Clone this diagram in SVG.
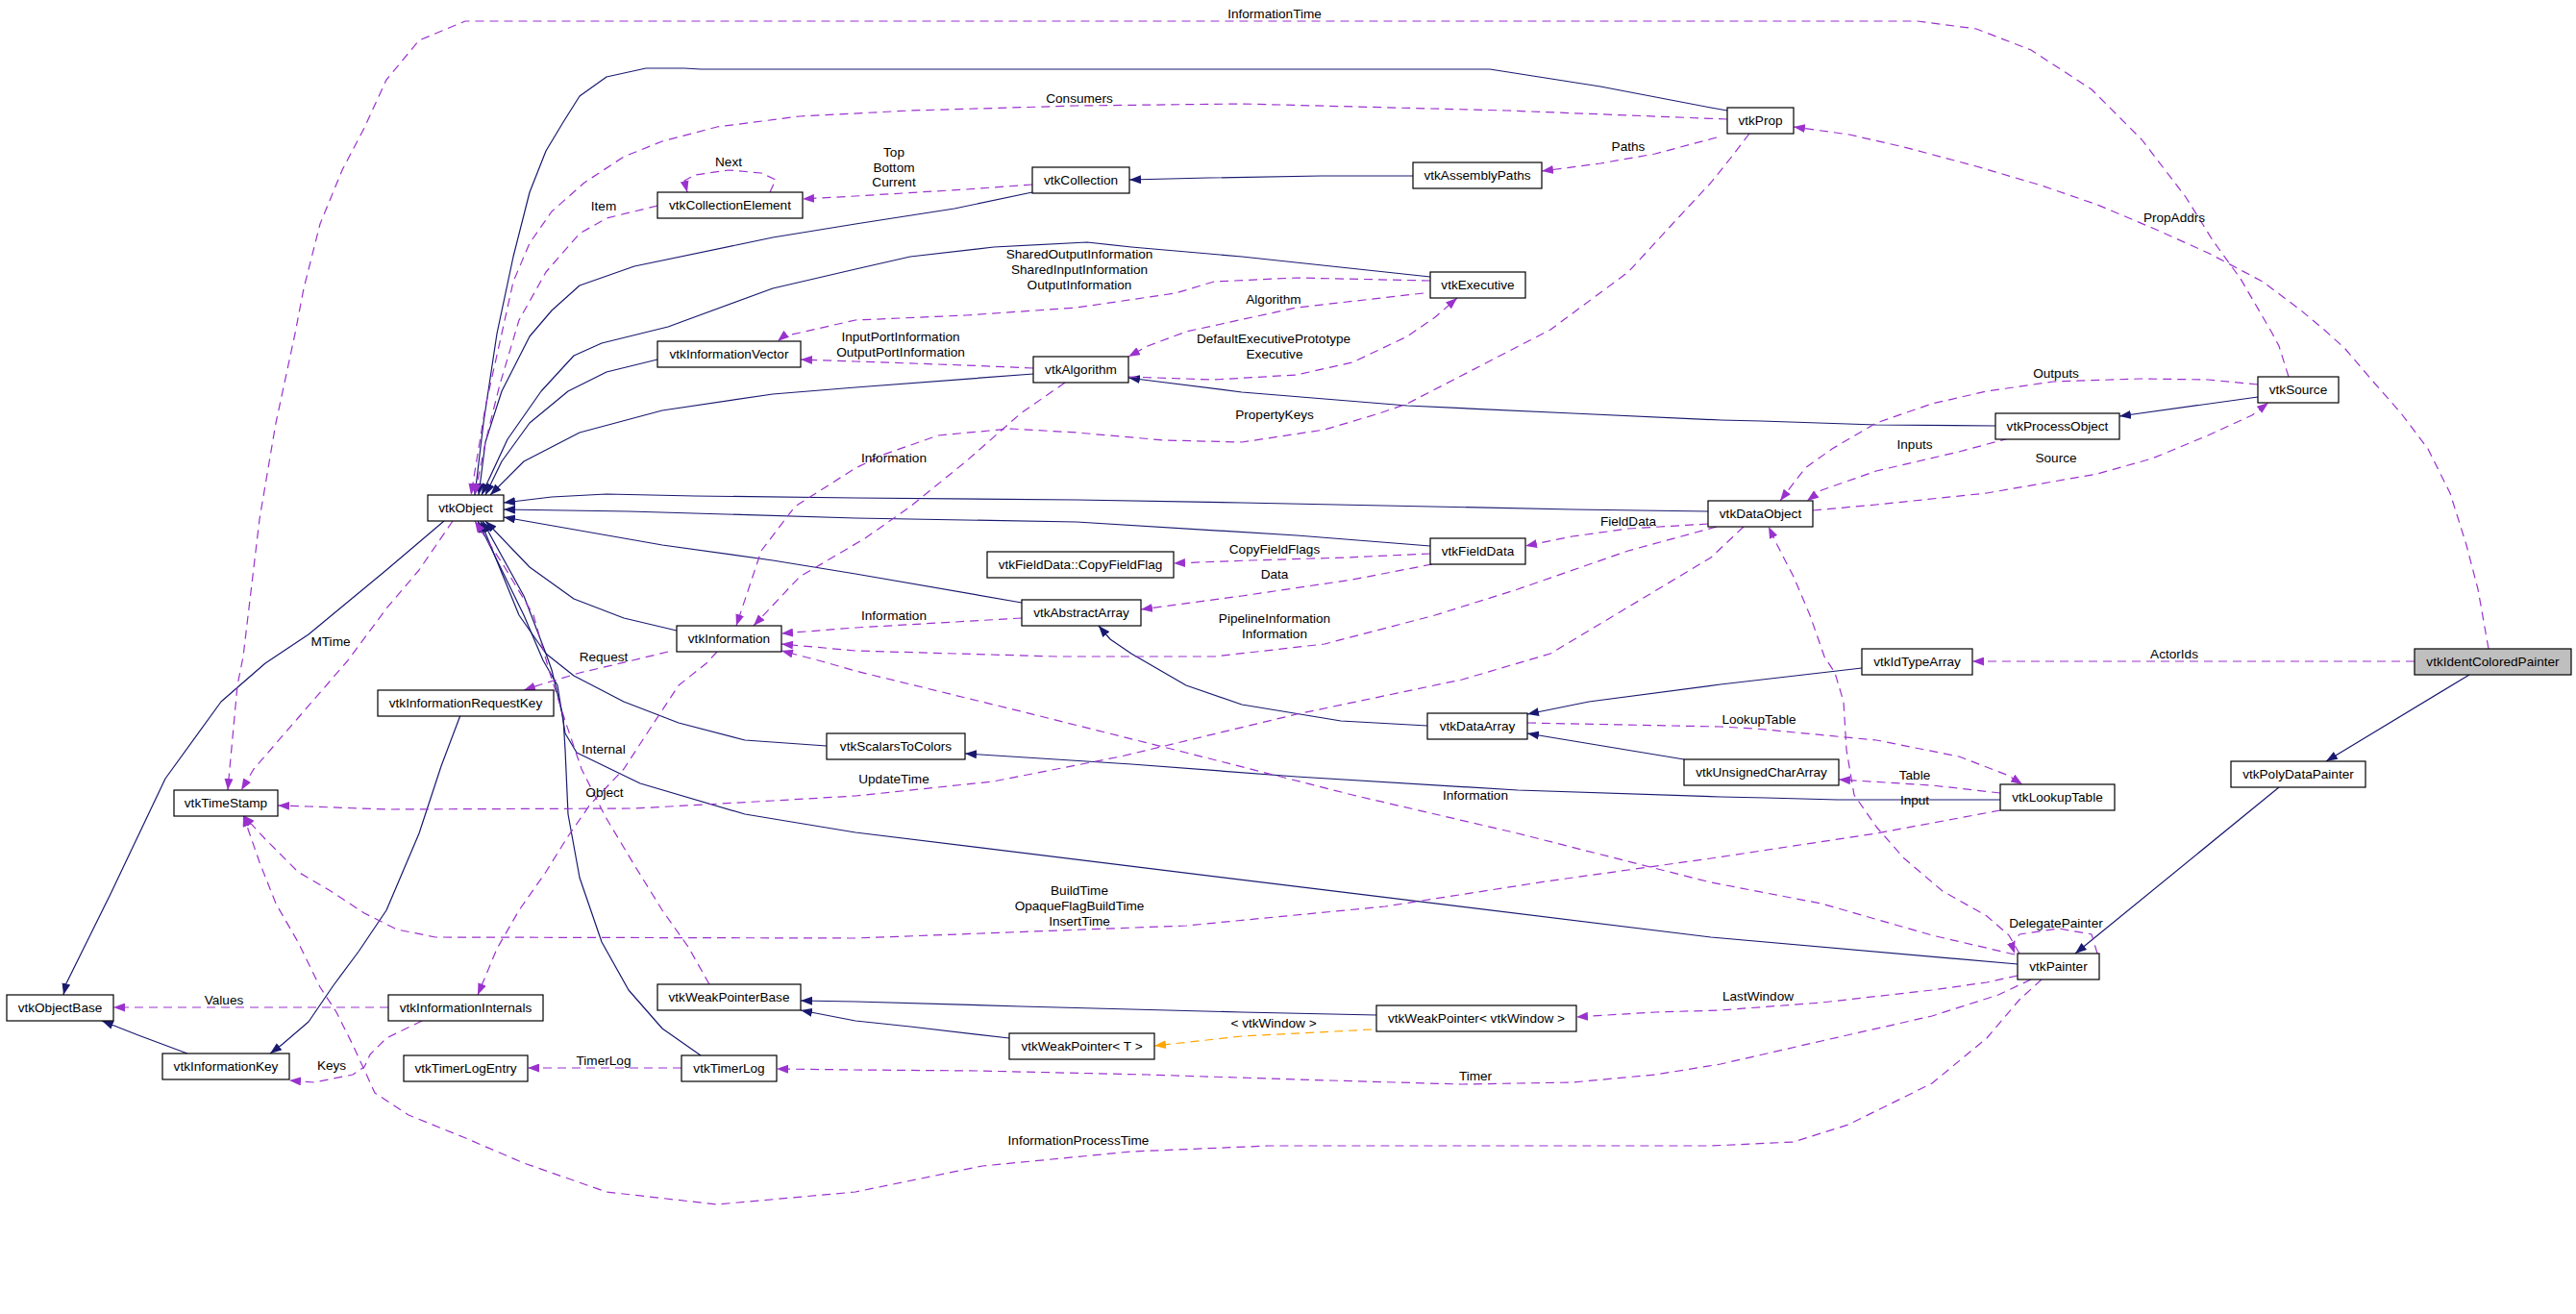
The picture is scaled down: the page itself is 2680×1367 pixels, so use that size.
<svg xmlns="http://www.w3.org/2000/svg" width="2680" height="1367" viewBox="0 0 2680 1367">
<style>
text{font-family:"Liberation Sans",Arial,sans-serif;font-size:13.6px;text-anchor:middle;fill:#000}
.node rect{fill:#fff;stroke:#000;stroke-width:1.2}
#vtkIdentColoredPainter rect{fill:#bfbfbf}
.inh{fill:none;stroke:#191970;stroke-width:1.2;stroke-linejoin:round;marker-end:url(#an)}
.use{fill:none;stroke:#9a32cd;stroke-width:1.2;stroke-dasharray:9,6;stroke-linejoin:round;marker-end:url(#ap)}
.tpl{fill:none;stroke:#ffa500;stroke-width:1.2;stroke-dasharray:9,6;marker-end:url(#ao)}
</style>
<defs>
<marker id="an" markerUnits="userSpaceOnUse" markerWidth="13" markerHeight="9" viewBox="0 0 13 9" refX="12" refY="4.5" orient="auto"><path d="M0,0 L12,4.5 L0,9 z" fill="#191970" stroke="none"/></marker>
<marker id="ap" markerUnits="userSpaceOnUse" markerWidth="13" markerHeight="9" viewBox="0 0 13 9" refX="12" refY="4.5" orient="auto"><path d="M0,0 L12,4.5 L0,9 z" fill="#9a32cd" stroke="none"/></marker>
<marker id="ao" markerUnits="userSpaceOnUse" markerWidth="13" markerHeight="9" viewBox="0 0 13 9" refX="12" refY="4.5" orient="auto"><path d="M0,0 L12,4.5 L0,9 z" fill="#ffa500" stroke="none"/></marker>
</defs>
<rect width="2680" height="1367" fill="#fff"/>
<g id="connectors">
<path class="inh" d="M1797,115 L1780,112 L1665,90 L1550,72 L1300,72 L729,72 L712,71 L672,71 L631,80 L603,100 L586,127 L568,157 L551,200 L534,267 L517,347 L503,440 L494,515"/>
<path class="inh" d="M1074,200 L993,217 L890,233 L804,247 L660,277 L603,297 L574,323 L551,350 L522,407 L505,460 L498,515"/>
<path class="inh" d="M1488,288 L1292,267 L1177,257 L1131,252 L1034,257 L947,267 L890,280 L804,300 L695,340 L626,357 L597,370 L563,407 L528,457 L501,515"/>
<path class="inh" d="M684,374 L631,387 L591,407 L551,440 L522,480 L505,515"/>
<path class="inh" d="M1075,389 L890,403 L804,410 L689,427 L603,450 L545,480 L510,515"/>
<path class="inh" d="M1777,532 L1636,530 L1292,523 L1120,520 L890,518 L723,516 L631,514 L574,517 L524,523"/>
<path class="inh" d="M1488,568 L1349,557 L1120,543 L890,539 L654,532 L524,530"/>
<path class="inh" d="M1063,627 L890,597 L804,583 L689,567 L524,538"/>
<path class="inh" d="M704,656 L649,643 L597,623 L551,590 L505,542"/>
<path class="inh" d="M860,776 L775,770 L706,752 L649,730 L597,703 L568,680 L540,640 L500,542"/>
<path class="inh" d="M2099,1003 L1780,975 L890,866 L775,847 L666,815 L600,783 L588,763 L580,713 L565,687 L545,640 L497,542"/>
<path class="inh" d="M729,1098 L689,1070 L654,1030 L626,980 L603,913 L591,847 L588,780 L586,747 L574,697 L568,680 L545,620 L502,542"/>
<path class="inh" d="M462,542 L402,593 L321,660 L276,690 L230,730 L172,810 L115,930 L69,1023 L66,1035"/>
<path class="inh" d="M195,1096 L144,1077 L106,1062"/>
<path class="inh" d="M479,744 L459,797 L436,867 L402,947 L373,990 L347,1025 L321,1063 L293,1087 L281,1096"/>
<path class="inh" d="M1470,183 L1374,183 L1257,185 L1175,187"/>
<path class="inh" d="M2076,443 L1952,442 L1832,438 L1790,437 L1636,430 L1464,422 L1292,408 L1189,395 L1174,393"/>
<path class="inh" d="M2349,413 L2205,433"/>
<path class="inh" d="M1485,755 L1395,750 L1292,733 L1234,713 L1177,680 L1155,665 L1143,651"/>
<path class="inh" d="M1937,695 L1790,712 L1653,730 L1589,743"/>
<path class="inh" d="M1752,790 L1589,763"/>
<path class="inh" d="M2081,832 L1912,832 L1837,830 L1790,829 L1579,822 L1349,808 L1177,795 L1004,784"/>
<path class="inh" d="M1432,1056 L1292,1053 L1062,1047 L890,1042 L833,1041"/>
<path class="inh" d="M1050,1080 L947,1068 L890,1062 L833,1051"/>
<path class="inh" d="M2569,702 L2420,792"/>
<path class="inh" d="M2371,819 L2159,992"/>
<path class="use" d="M2381,392 L2371,360 L2363,345 L2331,290 L2302,250 L2274,205 L2228,145 L2176,93 L2113,52 L2056,30 L1995,22 L484,22 L436,42 L402,83 L379,133 L356,177 L333,233 L316,300 L307,347 L287,440 L270,540 L253,683 L247,713 L238,810 L237,822"/>
<path class="use" d="M2589,675 L2578,613 L2566,567 L2549,513 L2526,467 L2498,430 L2469,397 L2440,363 L2418,343 L2394,323 L2354,293 L2297,263 L2239,237 L2182,213 L2124,193 L2056,173 L1981,153 L1924,140 L1866,132"/>
<path class="use" d="M1797,124 L1567,115 L1292,108 L1120,110 L947,115 L832,121 L746,132 L689,147 L649,163 L608,190 L574,220 L551,253 L534,293 L522,347 L505,423 L490,515"/>
<path class="use" d="M1786,143 L1722,160 L1665,170 L1604,178"/>
<path class="use" d="M1820,139 L1800,165 L1780,190 L1740,233 L1694,283 L1613,343 L1464,420 L1435,430 L1378,447 L1292,460 L1211,458 L1120,450 L1051,446 L976,453 L919,473 L890,487 L827,527 L792,573 L766,651"/>
<path class="use" d="M684,214 L631,227 L603,243 L568,283 L540,333 L520,400 L505,460 L494,515"/>
<path class="use" d="M1074,192 L1005,197 L890,204 L835,207"/>
<path class="use" d="M801,200 L807,187 L792,180 L758,177 L723,182 L712,188 L715,200"/>
<path class="use" d="M1488,292 L1349,289 L1263,293 L1223,305 L1120,320 L1005,328 L890,333 L815,350 L809,355"/>
<path class="use" d="M1075,383 L1005,380 L890,376 L833,374"/>
<path class="use" d="M1481,305 L1349,320 L1234,345 L1194,360 L1174,371"/>
<path class="use" d="M1174,392 L1263,395 L1349,390 L1407,377 L1464,350 L1493,330 L1516,310"/>
<path class="use" d="M1108,398 L1062,430 L1005,480 L947,527 L900,560 L832,600 L784,651"/>
<path class="use" d="M2349,400 L2297,395 L2228,394 L2136,397 L2067,407 L2010,420 L1952,440 L1906,467 L1878,487 L1852,521"/>
<path class="use" d="M2090,456 L2038,470 L1952,490 L1895,510 L1880,521"/>
<path class="use" d="M1886,531 L1952,525 L2067,513 L2182,493 L2239,477 L2297,453 L2343,432 L2360,419"/>
<path class="use" d="M1777,545 L1694,550 L1636,558 L1587,568"/>
<path class="use" d="M1488,576 L1400,580 L1300,583 L1221,586"/>
<path class="use" d="M1490,587 L1407,603 L1292,620 L1187,634"/>
<path class="use" d="M1063,643 L890,653 L813,659"/>
<path class="use" d="M1786,548 L1694,573 L1579,613 L1493,640 L1378,670 L1263,683 L1100,683 L890,677 L813,670"/>
<path class="use" d="M1814,548 L1780,580 L1613,680 L1521,707 L1349,743 L1166,787 L1033,813 L890,828 L804,833 L660,841 L402,842 L321,839 L289,838"/>
<path class="use" d="M2096,993 L2010,973 L1895,940 L1780,918 L1579,867 L1407,827 L1234,783 L1062,740 L890,698 L855,688 L813,677"/>
<path class="use" d="M2101,992 L2090,973 L2067,953 L2021,927 L1981,893 L1952,860 L1929,827 L1921,780 L1918,730 L1909,700 L1898,683 L1883,640 L1866,600 L1849,567 L1840,548"/>
<path class="use" d="M2182,992 L2176,972 L2142,966 L2101,972 L2093,983 L2096,992"/>
<path class="use" d="M2099,1015 L2067,1022 L2010,1030 L1895,1043 L1789,1051 L1722,1053 L1640,1058"/>
<path class="use" d="M2113,1019 L2079,1035 L2010,1057 L1895,1083 L1790,1107 L1722,1118 L1636,1126 L1521,1128 L1349,1123 L1194,1118 L1016,1114 L890,1113 L808,1112"/>
<path class="use" d="M2124,1019 L2101,1040 L2067,1080 L2010,1127 L1923,1170 L1866,1188 L1780,1192 L1320,1192 L1177,1198 L1022,1213 L890,1240 L746,1253 L631,1240 L545,1210 L482,1183 L425,1160 L390,1137 L379,1113 L367,1087 L350,1053 L333,1027 L310,980 L287,940 L270,897 L253,848"/>
<path class="use" d="M2081,843 L1952,867 L1780,893 L1608,917 L1441,943 L1234,963 L890,976 L453,975 L413,967 L379,950 L344,927 L310,907 L276,873 L253,848"/>
<path class="use" d="M471,542 L436,593 L402,633 L362,687 L310,747 L264,800 L251,822"/>
<path class="use" d="M695,678 L654,688 L603,700 L563,712 L545,718"/>
<path class="use" d="M746,678 L735,690 L706,713 L677,757 L649,800 L614,837 L591,870 L568,907 L540,947 L517,987 L497,1035"/>
<path class="use" d="M738,1024 L716,985 L689,947 L660,900 L630,850 L605,800 L588,750 L572,700 L555,640 L525,590 L494,542"/>
<path class="use" d="M404,1048 L118,1048"/>
<path class="use" d="M439,1062 L402,1080 L385,1097 L379,1110 L367,1118 L327,1126 L301,1124"/>
<path class="use" d="M709,1111 L549,1111"/>
<path class="use" d="M2512,688 L2052,688"/>
<path class="use" d="M1589,752 L1790,756 L1826,758 L1952,770 L2038,787 L2090,807 L2104,816"/>
<path class="use" d="M2081,825 L2010,817 L1913,811"/>
<path class="tpl" d="M1427,1071 L1292,1078 L1201,1088"/>
</g>
<g id="labels">
<text x="1326" y="19">InformationTime</text>
<text x="1123" y="107">Consumers</text>
<text x="930" y="163">Top</text>
<text x="930" y="179">Bottom</text>
<text x="930" y="194">Current</text>
<text x="1694" y="157">Paths</text>
<text x="758" y="173">Next</text>
<text x="628" y="219">Item</text>
<text x="1123" y="269">SharedOutputInformation</text>
<text x="1123" y="285">SharedInputInformation</text>
<text x="1123" y="301">OutputInformation</text>
<text x="1325" y="316">Algorithm</text>
<text x="2262" y="231">PropAddrs</text>
<text x="937" y="355">InputPortInformation</text>
<text x="937" y="371">OutputPortInformation</text>
<text x="1325" y="357">DefaultExecutivePrototype</text>
<text x="1326" y="373">Executive</text>
<text x="1326" y="436">PropertyKeys</text>
<text x="930" y="481">Information</text>
<text x="2139" y="393">Outputs</text>
<text x="1992" y="467">Inputs</text>
<text x="2139" y="481">Source</text>
<text x="1694" y="547">FieldData</text>
<text x="1326" y="576">CopyFieldFlags</text>
<text x="1326" y="602">Data</text>
<text x="930" y="645">Information</text>
<text x="1326" y="648">PipelineInformation</text>
<text x="1326" y="664">Information</text>
<text x="344" y="672">MTime</text>
<text x="2262" y="685">ActorIds</text>
<text x="628" y="688">Request</text>
<text x="1830" y="753">LookupTable</text>
<text x="628" y="784">Internal</text>
<text x="1992" y="811">Table</text>
<text x="930" y="815">UpdateTime</text>
<text x="629" y="829">Object</text>
<text x="1535" y="832">Information</text>
<text x="1992" y="837">Input</text>
<text x="1123" y="931">BuildTime</text>
<text x="1123" y="947">OpaqueFlagBuildTime</text>
<text x="1123" y="963">InsertTime</text>
<text x="2139" y="965">DelegatePainter</text>
<text x="1829" y="1041">LastWindow</text>
<text x="233" y="1045">Values</text>
<text x="1325" y="1069">&lt; vtkWindow &gt;</text>
<text x="628" y="1108">TimerLog</text>
<text x="345" y="1113">Keys</text>
<text x="1535" y="1124">Timer</text>
<text x="1122" y="1191">InformationProcessTime</text>
</g>
<g id="vtkIdentColoredPainter" class="node"><rect x="2512" y="675" width="163" height="27"/><text x="2593.5" y="693">vtkIdentColoredPainter</text></g>
<g id="vtkPolyDataPainter" class="node"><rect x="2321" y="792" width="140" height="27"/><text x="2391" y="810">vtkPolyDataPainter</text></g>
<g id="vtkPainter" class="node"><rect x="2099" y="992" width="85" height="27"/><text x="2141.5" y="1010">vtkPainter</text></g>
<g id="vtkSource" class="node"><rect x="2349" y="392" width="84" height="27"/><text x="2391" y="410">vtkSource</text></g>
<g id="vtkProcessObject" class="node"><rect x="2076" y="430" width="129" height="27"/><text x="2140.5" y="448">vtkProcessObject</text></g>
<g id="vtkDataObject" class="node"><rect x="1777" y="521" width="109" height="27"/><text x="1831.5" y="539">vtkDataObject</text></g>
<g id="vtkIdTypeArray" class="node"><rect x="1937" y="675" width="115" height="27"/><text x="1994.5" y="693">vtkIdTypeArray</text></g>
<g id="vtkLookupTable" class="node"><rect x="2081" y="816" width="119" height="27"/><text x="2140.5" y="834">vtkLookupTable</text></g>
<g id="vtkUnsignedCharArray" class="node"><rect x="1752" y="790" width="161" height="27"/><text x="1832.5" y="808">vtkUnsignedCharArray</text></g>
<g id="vtkDataArray" class="node"><rect x="1485" y="742" width="104" height="27"/><text x="1537" y="760">vtkDataArray</text></g>
<g id="vtkScalarsToColors" class="node"><rect x="860" y="763" width="144" height="27"/><text x="932" y="781">vtkScalarsToColors</text></g>
<g id="vtkFieldData" class="node"><rect x="1488" y="560" width="99" height="27"/><text x="1537.5" y="578">vtkFieldData</text></g>
<g id="vtkFieldData_CopyFieldFlag" class="node"><rect x="1027" y="574" width="194" height="27"/><text x="1124" y="592">vtkFieldData::CopyFieldFlag</text></g>
<g id="vtkAbstractArray" class="node"><rect x="1063" y="624" width="124" height="27"/><text x="1125" y="642">vtkAbstractArray</text></g>
<g id="vtkAlgorithm" class="node"><rect x="1075" y="371" width="99" height="27"/><text x="1124.5" y="389">vtkAlgorithm</text></g>
<g id="vtkExecutive" class="node"><rect x="1488" y="283" width="99" height="27"/><text x="1537.5" y="301">vtkExecutive</text></g>
<g id="vtkCollection" class="node"><rect x="1074" y="174" width="101" height="27"/><text x="1124.5" y="192">vtkCollection</text></g>
<g id="vtkAssemblyPaths" class="node"><rect x="1470" y="169" width="134" height="27"/><text x="1537" y="187">vtkAssemblyPaths</text></g>
<g id="vtkProp" class="node"><rect x="1797" y="112" width="69" height="27"/><text x="1831.5" y="130">vtkProp</text></g>
<g id="vtkCollectionElement" class="node"><rect x="684" y="200" width="151" height="27"/><text x="759.5" y="218">vtkCollectionElement</text></g>
<g id="vtkInformationVector" class="node"><rect x="684" y="355" width="149" height="27"/><text x="758.5" y="373">vtkInformationVector</text></g>
<g id="vtkObject" class="node"><rect x="445" y="515" width="79" height="27"/><text x="484.5" y="533">vtkObject</text></g>
<g id="vtkInformation" class="node"><rect x="704" y="651" width="109" height="27"/><text x="758.5" y="669">vtkInformation</text></g>
<g id="vtkInformationRequestKey" class="node"><rect x="393" y="718" width="183" height="27"/><text x="484.5" y="736">vtkInformationRequestKey</text></g>
<g id="vtkTimeStamp" class="node"><rect x="181" y="822" width="108" height="27"/><text x="235" y="840">vtkTimeStamp</text></g>
<g id="vtkObjectBase" class="node"><rect x="7" y="1035" width="111" height="27"/><text x="62.5" y="1053">vtkObjectBase</text></g>
<g id="vtkInformationInternals" class="node"><rect x="404" y="1035" width="161" height="27"/><text x="484.5" y="1053">vtkInformationInternals</text></g>
<g id="vtkInformationKey" class="node"><rect x="169" y="1096" width="132" height="27"/><text x="235" y="1114">vtkInformationKey</text></g>
<g id="vtkTimerLogEntry" class="node"><rect x="420" y="1098" width="129" height="27"/><text x="484.5" y="1116">vtkTimerLogEntry</text></g>
<g id="vtkTimerLog" class="node"><rect x="709" y="1098" width="99" height="27"/><text x="758.5" y="1116">vtkTimerLog</text></g>
<g id="vtkWeakPointerBase" class="node"><rect x="684" y="1024" width="149" height="27"/><text x="758.5" y="1042">vtkWeakPointerBase</text></g>
<g id="vtkWeakPointer_vtkWindow" class="node"><rect x="1432" y="1046" width="208" height="27"/><text x="1536" y="1064">vtkWeakPointer&lt; vtkWindow &gt;</text></g>
<g id="vtkWeakPointer_T" class="node"><rect x="1050" y="1075" width="151" height="27"/><text x="1125.5" y="1093">vtkWeakPointer&lt; T &gt;</text></g>
</svg>
